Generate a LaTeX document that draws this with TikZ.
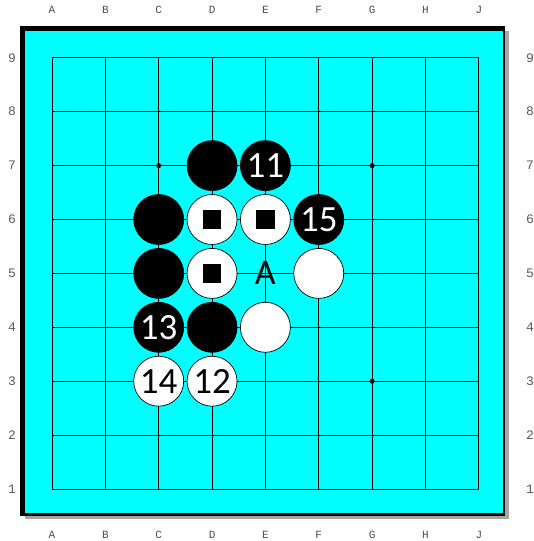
\documentclass[tikz,border=0pt]{standalone}
\usepackage{fontspec}
\usepackage{tikz}
\newfontfamily\coordfont{Liberation Mono}
\newfontfamily\stonefont{Carlito}
\definecolor{boardcyan}{HTML}{00FFFF}

\begin{document}
\begin{tikzpicture}[
  x=1pt, y=-1pt,
  stone/.style={
    circle, minimum size=50pt, inner sep=0pt, line width=0.7pt,
    font=\stonefont\fontsize{37}{37}\selectfont
  },
  blackstone/.style={stone, draw=black, fill=black, text=white},
  whitestone/.style={stone, draw=black, fill=white, text=black},
  sqmark/.style={fill=black, minimum size=18.5pt, inner sep=0pt},
  collabel/.style={font=\coordfont\fontsize{11}{11}\selectfont, text=black!70},
  rowlabel/.style={font=\coordfont\fontsize{13}{13}\selectfont, text=black!65},
  hoshi/.style={circle, fill=black, minimum size=5pt, inner sep=0pt}
]
  \useasboundingbox (0,0) rectangle (533,541);

  % board with shadow
  \fill[gray!70] (25,31) rectangle (508.5,519.3);
  \fill[black] (20,26) rectangle (505.3,516);
  \fill[boardcyan] (25,31) rectangle (503.3,513.3);

  \begin{scope}[shift={(52,489)}, x=53.35pt, y=53.9pt]
    % grid
    \foreach \i in {0,...,8} {
      \draw[line width=0.8pt] (\i,0) -- (\i,8);
      \draw[line width=0.8pt] (0,\i) -- (8,\i);
    }
    % coordinates
    \foreach \c [count=\i from 0] in {A,B,C,D,E,F,G,H,J} {
      \node[collabel] (top\c) at (\i,8.88) {\c};
      \node[collabel] (bot\c) at (\i,-0.85) {\c};
    }
    \foreach \r in {1,...,9} {
      \node[rowlabel] (left\r) at (-0.75,\r-1) {\r};
      \node[rowlabel] (right\r) at (8.96,\r-1) {\r};
    }
    % star points
    \node[hoshi] (hoshiC7) at (2,6) {};
    \node[hoshi] (hoshiG7) at (6,6) {};
    \node[hoshi] (hoshiG3) at (6,2) {};

    % black stones
    \node[blackstone] (D7) at (3,6) {};
    \node[blackstone] (E7) at (4,6) {11};
    \node[blackstone] (C6) at (2,5) {};
    \node[blackstone] (F6) at (5,5) {15};
    \node[blackstone] (C5) at (2,4) {};
    \node[blackstone] (C4) at (2,3) {13};
    \node[blackstone] (D4) at (3,3) {};

    % white stones
    \node[whitestone] (D6) at (3,5) {};
    \node[whitestone] (E6) at (4,5) {};
    \node[whitestone] (D5) at (3,4) {};
    \node[whitestone] (F5) at (5,4) {};
    \node[whitestone] (E4) at (4,3) {};
    \node[whitestone] (C3) at (2,2) {14};
    \node[whitestone] (D3) at (3,2) {12};

    % marks
    \node[sqmark] (markD6) at (D6) {};
    \node[sqmark] (markE6) at (E6) {};
    \node[sqmark] (markD5) at (D5) {};
    \node[font=\stonefont\fontsize{36}{36}\selectfont] (pointA) at (4,4) {A};
  \end{scope}
\end{tikzpicture}
\end{document}
